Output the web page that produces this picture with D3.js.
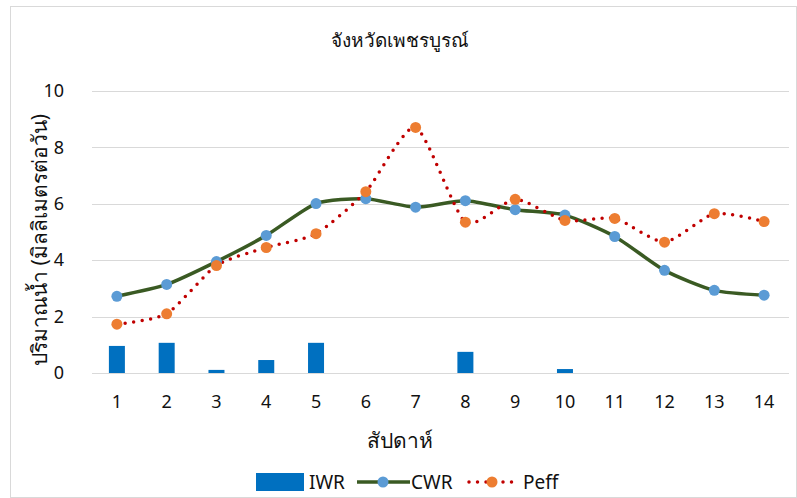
<!DOCTYPE html>
<html>
<head>
<meta charset="utf-8">
<script src="https://cdn.jsdelivr.net/npm/d3@7"></script>
<style>
  html, body { margin: 0; padding: 0; background: #fff; }
  svg { display: block; font-family: "Noto Sans", "Open Sans", sans-serif; }
</style>
</head>
<body>
<svg id="chart" width="797" height="498"></svg>
<script>
// Weekly water figures (mm/day)
const weeks = [1, 2, 3, 4, 5, 6, 7, 8, 9, 10, 11, 12, 13, 14];
const iwr  = [0.96, 1.07, 0.11, 0.46, 1.07, 0, 0, 0.75, 0, 0.14, 0, 0, 0, 0];
const cwr  = [2.72, 3.14, 3.95, 4.88, 6.01, 6.18, 5.88, 6.11, 5.79, 5.60, 4.84, 3.64, 2.93, 2.76];
const peff = [1.73, 2.10, 3.81, 4.45, 4.94, 6.43, 8.71, 5.35, 6.16, 5.41, 5.48, 4.64, 5.65, 5.37];
const yTicks = [0, 2, 4, 6, 8, 10];

const svg = d3.select("#chart");
const W = 797, H = 498;
const plot = { left: 92, right: 789, top: 91, bottom: 373 };
const ink = "#111";

// chart frame
svg.append("rect")
  .attr("x", 10.5).attr("y", 6.5)
  .attr("width", W - 11).attr("height", H - 7)
  .attr("fill", "#fff").attr("stroke", "#d9d9d9").attr("stroke-width", 1);

const x = d3.scaleBand().domain(weeks).range([plot.left, plot.right]).padding(0);
const y = d3.scaleLinear().domain([0, 10]).range([plot.bottom, plot.top]);
const cx = d => x(d) + x.bandwidth() / 2;

// gridlines
svg.append("g").selectAll("line").data(yTicks).join("line")
  .attr("x1", plot.left).attr("x2", plot.right)
  .attr("y1", d => Math.round(y(d)) + 0.5).attr("y2", d => Math.round(y(d)) + 0.5)
  .attr("stroke", "#d9d9d9").attr("stroke-width", 1);

// y axis labels
const yAxis = d3.axisLeft(y).tickValues(yTicks).tickSize(0).tickPadding(0);
const gy = svg.append("g").attr("transform", `translate(${plot.left - 28},0)`).call(yAxis);
gy.select(".domain").remove();
gy.selectAll("text").attr("font-size", 18).attr("fill", ink)
  .attr("font-family", "'Noto Sans', sans-serif");

// x axis labels
const xAxis = d3.axisBottom(x).tickSize(0).tickPadding(0);
const gx = svg.append("g").attr("transform", `translate(0,${plot.bottom + 22})`).call(xAxis);
gx.select(".domain").remove();
gx.selectAll("text").attr("font-size", 18).attr("fill", ink)
  .attr("font-family", "'Noto Sans', sans-serif");

// IWR bars
const barW = 16;
svg.append("g").selectAll("rect").data(weeks.map((w, i) => ({ w, v: iwr[i] })).filter(d => d.v > 0))
  .join("rect")
  .attr("x", d => cx(d.w) - barW / 2)
  .attr("width", barW)
  .attr("y", d => y(d.v))
  .attr("height", d => y(0) - y(d.v))
  .attr("fill", "#0070c0");

const line = d3.line().x((d, i) => cx(weeks[i])).y(d => y(d)).curve(d3.curveCardinal.tension(0.35));

// CWR line
svg.append("path").datum(cwr).attr("d", line)
  .attr("fill", "none").attr("stroke", "#3a5a23").attr("stroke-width", 3.5)
  .attr("stroke-linejoin", "round");

// Peff dotted line
svg.append("path").datum(peff).attr("d", line)
  .attr("fill", "none").attr("stroke", "#c00000").attr("stroke-width", 3.5)
  .attr("stroke-dasharray", "0 8.5").attr("stroke-linecap", "round");

// markers
svg.append("g").selectAll("circle").data(cwr).join("circle")
  .attr("cx", (d, i) => cx(weeks[i])).attr("cy", d => y(d)).attr("r", 5.5)
  .attr("fill", "#5b9bd5");
svg.append("g").selectAll("circle").data(peff).join("circle")
  .attr("cx", (d, i) => cx(weeks[i])).attr("cy", d => y(d)).attr("r", 5.5)
  .attr("fill", "#ed7d31");

// titles
svg.append("text").attr("x", 400).attr("y", 47).attr("text-anchor", "middle")
  .attr("font-size", 19).attr("font-weight", 500).attr("fill", ink).text("จังหวัดเพชรบูรณ์");
svg.append("text").attr("x", 400).attr("y", 448).attr("text-anchor", "middle")
  .attr("font-size", 21).attr("fill", ink).text("สัปดาห์");
svg.append("text")
  .attr("transform", `translate(47,${(plot.top + plot.bottom) / 2 + 8}) rotate(-90)`)
  .attr("text-anchor", "middle").attr("font-size", 21).attr("fill", ink)
  .text("ปริมาณน้ำ (มิลลิเมตรต่อวัน)");

// legend
const lg = svg.append("g").attr("font-size", 19).attr("fill", ink);
const ly = 482;
lg.append("rect").attr("x", 256).attr("y", ly - 9).attr("width", 48).attr("height", 18).attr("fill", "#0070c0");
lg.append("text").attr("x", 309).attr("y", ly + 7).text("IWR");

lg.append("line").attr("x1", 357).attr("x2", 410).attr("y1", ly).attr("y2", ly)
  .attr("stroke", "#3a5a23").attr("stroke-width", 3.5);
lg.append("circle").attr("cx", 383).attr("cy", ly).attr("r", 5.5).attr("fill", "#5b9bd5");
lg.append("text").attr("x", 411).attr("y", ly + 7).text("CWR");

lg.append("line").attr("x1", 469).attr("x2", 518).attr("y1", ly).attr("y2", ly)
  .attr("stroke", "#c00000").attr("stroke-width", 3.5)
  .attr("stroke-dasharray", "0 8.5").attr("stroke-linecap", "round");
lg.append("circle").attr("cx", 492).attr("cy", ly).attr("r", 5.5).attr("fill", "#ed7d31");
lg.append("text").attr("x", 523).attr("y", ly + 7).text("Peff");
</script>
</body>
</html>
